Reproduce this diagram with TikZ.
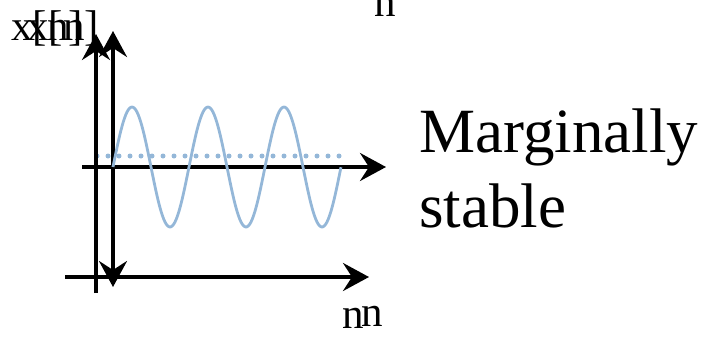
\documentclass[tikz,border=0pt]{standalone}
\usepackage{fontspec}
\setmainfont{Liberation Serif}
\usetikzlibrary{arrows.meta}
\definecolor{wavec}{RGB}{148,183,216}
\begin{document}
\begin{tikzpicture}[x=1pt,y=-1pt,
  axis/.style={line width=3.6pt},
  head/.tip={Stealth[length=26pt,width=28pt,inset=9pt]},
  tip/.style={-head},
  lbl/.style={inner sep=0pt,anchor=base west,font=\fontsize{43}{50}\selectfont},
  big/.style={inner sep=0pt,anchor=base west,font=\fontsize{63}{75}\selectfont},
  wave/.style={draw=wavec,line width=2.8pt},
  dots/.style={draw=wavec,line width=5pt,line cap=round,dash pattern=on 0pt off 11pt}]
\useasboundingbox (0,0) rectangle (706,338);
% coordinates
\coordinate (v1b) at (96,293);
\coordinate (v1t) at (96,34);
\coordinate (v2b) at (113,287);
\coordinate (v2t) at (113,31);
\coordinate (h1l) at (82,167);
\coordinate (h1r) at (386,167);
\coordinate (h2l) at (65,277);
\coordinate (h2r) at (369,277);
\coordinate (d1) at (97,156);
\coordinate (d2) at (350,156);
% dotted level
\draw[dots] (d1) -- (d2);
% axes
\draw[axis,tip] (v1b) -- (v1t);
\draw[axis,head-head] (v2b) -- (v2t);
\draw[axis,tip] (h1l) -- (h1r);
\draw[axis,tip] (h2l) -- (h2r);
% wave
\draw[wave] plot[domain=0:3,samples=181,smooth] ({113+76*\x},{167-60*sin(360*\x)});
% labels
\node[lbl] (xa) at (11,40) {x[n]};
\node[lbl] (xb) at (27,40) {x[n]};
\node[lbl] (nt) at (374,16) {n};
\node[lbl] (nb1) at (342,328) {n};
\node[lbl] (nb2) at (361,326) {n};
\node[big] (m1) at (419,152) {Marginally};
\node[big] (m2) at (419,227) {stable};
\end{tikzpicture}
\end{document}
